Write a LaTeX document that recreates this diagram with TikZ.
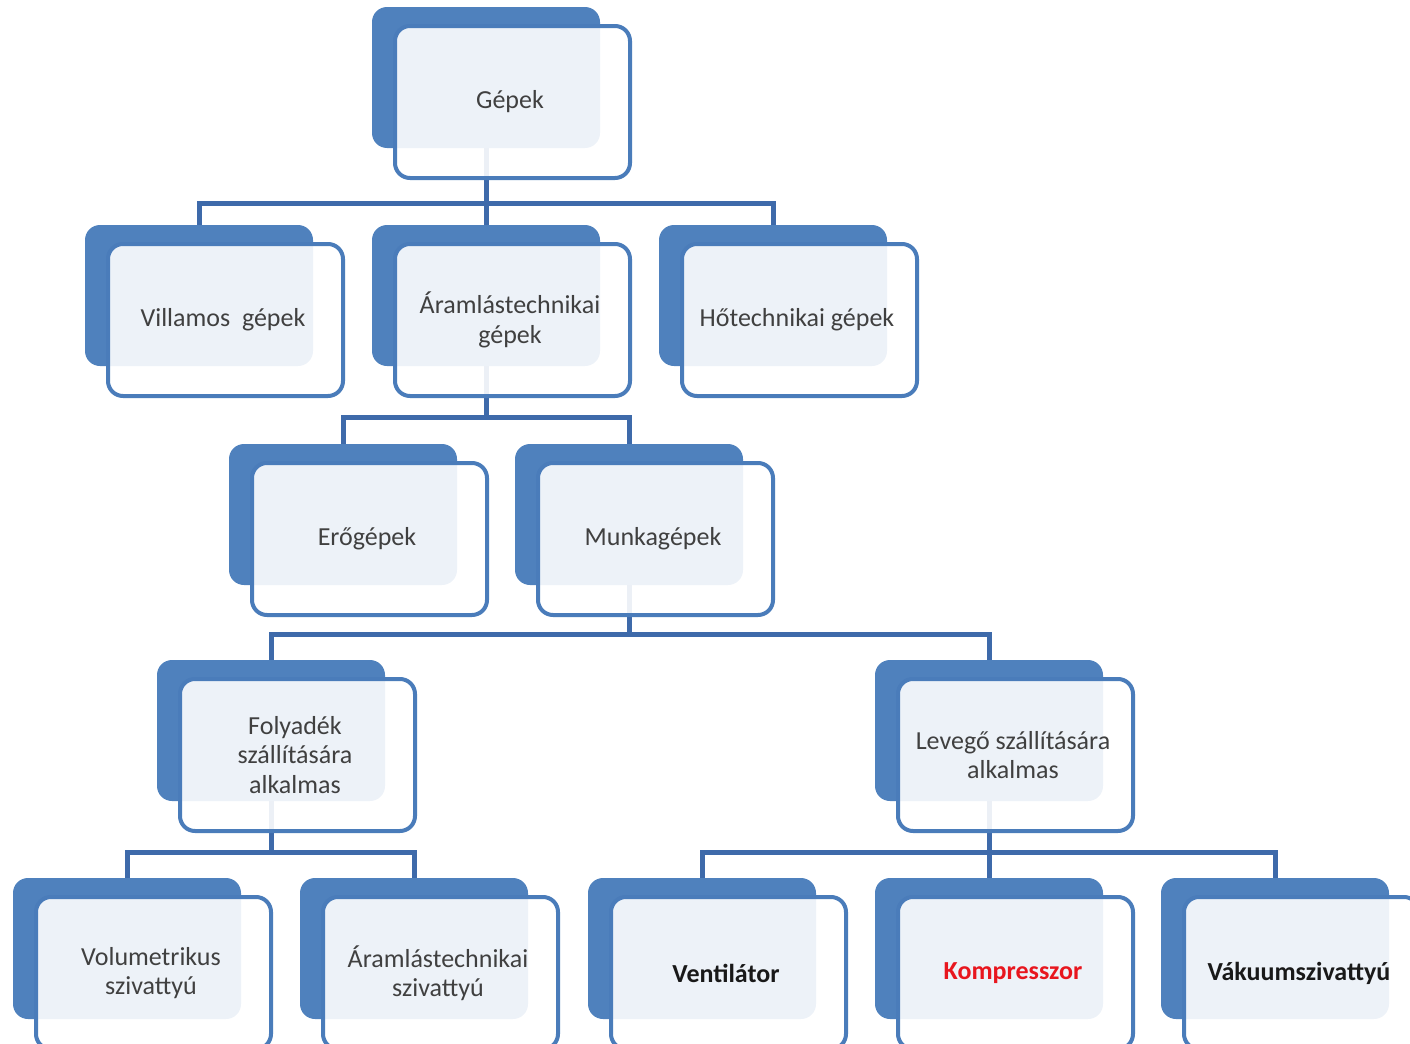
\documentclass[tikz,border=0pt]{standalone}
\usepackage{fontspec}
\setmainfont{Carlito}
\definecolor{boxblue}{RGB}{79,129,189}
\definecolor{frameblue}{RGB}{74,124,186}
\definecolor{connblue}{RGB}{62,106,170}
\definecolor{txtgray}{RGB}{64,64,64}
\definecolor{txtred}{RGB}{232,22,30}
\pgfdeclarelayer{background}
\pgfsetlayers{background,main}
\tikzset{
  backbox/.style={fill=boxblue, draw=none, rounded corners=7.5pt, inner sep=0pt, outer sep=0pt,
    minimum width=114pt, minimum height=70.5pt},
  frontbox/.style={fill=white, fill opacity=0.9, draw=frameblue, draw opacity=1, line width=2pt,
    rounded corners=7.5pt, inner sep=0pt, outer sep=0pt, minimum width=117.5pt, minimum height=76pt},
  lbl/.style={align=center, text=txtgray, inner sep=0pt, font=\fontsize{13pt}{14.75pt}\selectfont},
  boldlbl/.style={text=black!90, font=\fontsize{13pt}{14.75pt}\selectfont\bfseries},
  redlbl/.style={text=txtred, font=\fontsize{13pt}{14.75pt}\selectfont\bfseries},
  conn/.style={draw=connblue, line width=2.5pt}
}
\newcommand\orgbox[5]{%
  \node[backbox, anchor=north west] (#1) at (#2,#3) {};
  \node[frontbox, anchor=north west] (#1f) at ({#2+23},{#3+19}) {};
  \node[lbl,#5] (#1t) at ({#2+138},{#3+95}) {#4};}
\begin{document}
\begin{tikzpicture}[x=0.5pt, y=-0.5pt]
\path[use as bounding box] (0,0) rectangle (1410,1044);
\clip (0,0) rectangle (1410,1044);
\orgbox{gep}{372}{7}{Gépek}{}
\orgbox{vil}{85}{225}{Villamos~ gépek}{}
\orgbox{aram}{372}{225}{Áramlástechnikai\\gépek}{}
\orgbox{hot}{659}{225}{Hőtechnikai gépek}{}
\orgbox{ero}{229}{444}{Erőgépek}{}
\orgbox{munka}{515}{444}{Munkagépek}{}
\orgbox{foly}{157}{660}{Folyadék\\szállítására\\alkalmas}{}
\orgbox{lev}{875}{660}{Levegő szállítására\\alkalmas}{}
\orgbox{vol}{13}{878}{Volumetrikus\\szivattyú}{}
\orgbox{asz}{300}{878}{Áramlástechnikai\\szivattyú}{}
\orgbox{ven}{588}{878}{Ventilátor}{boldlbl}
\orgbox{komp}{875}{878}{Kompresszor}{redlbl}
\orgbox{vak}{1161}{878}{Vákuumszivattyú}{boldlbl}
% bus coordinates
\coordinate (b1) at (0,203);
\coordinate (b2) at (0,417);
\coordinate (b3) at (0,634);
\coordinate (b4) at (0,852);
\begin{pgfonlayer}{background}
\foreach \c in {vil,aram,hot}{\draw[conn] (gep.center) -- (gep.center |- b1) -| (\c.north);}
\foreach \c in {ero,munka}{\draw[conn] (aram.center) -- (aram.center |- b2) -| (\c.north);}
\foreach \c in {foly,lev}{\draw[conn] (munka.center) -- (munka.center |- b3) -| (\c.north);}
\foreach \c in {vol,asz}{\draw[conn] (foly.center) -- (foly.center |- b4) -| (\c.north);}
\foreach \c in {ven,komp,vak}{\draw[conn] (lev.center) -- (lev.center |- b4) -| (\c.north);}
\end{pgfonlayer}
\end{tikzpicture}
\end{document}
